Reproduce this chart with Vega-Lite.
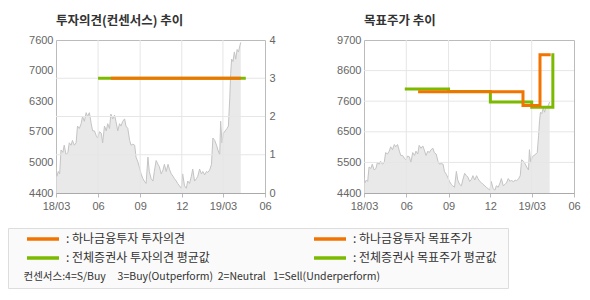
{
  "$schema": "https://vega.github.io/schema/vega-lite/v6.json",
  "background": "white",
  "padding": {"left": 7, "top": 14, "right": 5, "bottom": 5},
  "config": {
    "font": "Liberation Sans",
    "view": {"stroke": "#bbbbbb"},
    "axis": {"domain": false, "tickColor": "#bbbbbb", "grid": false, "labelColor": "#666666", "labelFontSize": 11, "labelFont": "Liberation Sans", "title": null, "labelOverlap": false, "tickCount": 12},
    "legend": {
      "orient": "none", "legendX": -48, "legendY": 188,
      "columns": 2, "gridAlign": "all",
      "symbolType": "M2,0H10", "symbolSize": 64, "symbolStrokeWidth": 3.5,
      "labelFont": "Noto Sans CJK KR", "labelFontSize": 12, "labelColor": "#333333", "labelOffset": 41, "labelLimit": 0,
      "columnPadding": 84, "rowPadding": 5, "padding": 5,
      "fillColor": "#fafafa", "strokeColor": "#dddddd",
      "titleOrient": "bottom", "titleAnchor": "start", "titleFont": "Noto Sans CJK KR", "titleFontSize": 10.5, "titleFontWeight": "normal", "titleColor": "#333333", "titlePadding": 7, "titleLimit": 0
    }
  },
  "datasets": {
    "price": [
      {"date": "2018/03/01", "price": 4950}, {"date": "2018/03/03", "price": 4750}, {"date": "2018/03/06", "price": 4850}, {"date": "2018/03/09", "price": 4800},
      {"date": "2018/03/12", "price": 5300}, {"date": "2018/03/16", "price": 5250}, {"date": "2018/03/19", "price": 5400}, {"date": "2018/03/23", "price": 5200},
      {"date": "2018/03/27", "price": 5250}, {"date": "2018/03/30", "price": 5450}, {"date": "2018/04/03", "price": 5400}, {"date": "2018/04/06", "price": 5500},
      {"date": "2018/04/10", "price": 5400}, {"date": "2018/04/14", "price": 5450}, {"date": "2018/04/17", "price": 5800}, {"date": "2018/04/21", "price": 5750},
      {"date": "2018/04/25", "price": 5850}, {"date": "2018/04/28", "price": 6000}, {"date": "2018/05/02", "price": 5900}, {"date": "2018/05/06", "price": 6080},
      {"date": "2018/05/09", "price": 6000}, {"date": "2018/05/13", "price": 6080}, {"date": "2018/05/17", "price": 5850}, {"date": "2018/05/20", "price": 5700},
      {"date": "2018/05/24", "price": 5700}, {"date": "2018/05/28", "price": 5600}, {"date": "2018/05/31", "price": 5550}, {"date": "2018/06/04", "price": 5680},
      {"date": "2018/06/08", "price": 5650}, {"date": "2018/06/11", "price": 5450}, {"date": "2018/06/15", "price": 5800}, {"date": "2018/06/19", "price": 5700},
      {"date": "2018/06/22", "price": 5850}, {"date": "2018/06/26", "price": 5750}, {"date": "2018/06/29", "price": 6050}, {"date": "2018/07/03", "price": 5950},
      {"date": "2018/07/07", "price": 6030}, {"date": "2018/07/10", "price": 5900}, {"date": "2018/07/14", "price": 5700}, {"date": "2018/07/18", "price": 5850},
      {"date": "2018/07/21", "price": 5800}, {"date": "2018/07/25", "price": 5900}, {"date": "2018/07/29", "price": 5950}, {"date": "2018/08/01", "price": 5800},
      {"date": "2018/08/05", "price": 5750}, {"date": "2018/08/09", "price": 5500}, {"date": "2018/08/12", "price": 5400}, {"date": "2018/08/16", "price": 5420},
      {"date": "2018/08/20", "price": 5400}, {"date": "2018/08/23", "price": 5150}, {"date": "2018/08/27", "price": 5050}, {"date": "2018/08/30", "price": 4950},
      {"date": "2018/09/03", "price": 4800}, {"date": "2018/09/07", "price": 4700}, {"date": "2018/09/10", "price": 4650}, {"date": "2018/09/14", "price": 4600},
      {"date": "2018/09/18", "price": 5150}, {"date": "2018/09/21", "price": 4850}, {"date": "2018/09/25", "price": 4700}, {"date": "2018/09/29", "price": 4650},
      {"date": "2018/10/02", "price": 4850}, {"date": "2018/10/06", "price": 5080}, {"date": "2018/10/10", "price": 5000}, {"date": "2018/10/13", "price": 4950},
      {"date": "2018/10/17", "price": 4800}, {"date": "2018/10/21", "price": 4880}, {"date": "2018/10/24", "price": 5000}, {"date": "2018/10/28", "price": 4850},
      {"date": "2018/11/01", "price": 5000}, {"date": "2018/11/04", "price": 4900}, {"date": "2018/11/08", "price": 4800}, {"date": "2018/11/12", "price": 4750},
      {"date": "2018/11/15", "price": 4700}, {"date": "2018/11/19", "price": 4650}, {"date": "2018/11/22", "price": 4600}, {"date": "2018/11/26", "price": 4550},
      {"date": "2018/11/30", "price": 4500}, {"date": "2018/12/03", "price": 4800}, {"date": "2018/12/07", "price": 4550}, {"date": "2018/12/11", "price": 4500},
      {"date": "2018/12/14", "price": 4650}, {"date": "2018/12/18", "price": 4600}, {"date": "2018/12/22", "price": 4750}, {"date": "2018/12/25", "price": 4900},
      {"date": "2018/12/29", "price": 4650}, {"date": "2019/01/02", "price": 4700}, {"date": "2019/01/05", "price": 4750}, {"date": "2019/01/09", "price": 4900},
      {"date": "2019/01/13", "price": 4800}, {"date": "2019/01/16", "price": 4850}, {"date": "2019/01/20", "price": 4780}, {"date": "2019/01/24", "price": 4850},
      {"date": "2019/01/27", "price": 4830}, {"date": "2019/01/31", "price": 4880}, {"date": "2019/02/04", "price": 5000}, {"date": "2019/02/07", "price": 5550},
      {"date": "2019/02/11", "price": 5500}, {"date": "2019/02/15", "price": 5400}, {"date": "2019/02/18", "price": 5300}, {"date": "2019/02/22", "price": 5200},
      {"date": "2019/02/24", "price": 5900}, {"date": "2019/02/27", "price": 5450}, {"date": "2019/03/02", "price": 5650}, {"date": "2019/03/06", "price": 5700},
      {"date": "2019/03/10", "price": 5750}, {"date": "2019/03/13", "price": 5800}, {"date": "2019/03/16", "price": 6400}, {"date": "2019/03/18", "price": 6900},
      {"date": "2019/03/20", "price": 7200}, {"date": "2019/03/23", "price": 7150}, {"date": "2019/03/26", "price": 7350}, {"date": "2019/03/29", "price": 7200},
      {"date": "2019/04/01", "price": 7400}, {"date": "2019/04/04", "price": 7350}, {"date": "2019/04/07", "price": 7480}, {"date": "2019/04/09", "price": 7550}
    ],
    "opinion": [
      {"series": "전체증권사 투자의견 평균값", "date": "2018/06/01", "value": 3},
      {"series": "전체증권사 투자의견 평균값", "date": "2019/04/20", "value": 3},
      {"series": "하나금융투자 투자의견", "date": "2018/06/29", "value": 3},
      {"series": "하나금융투자 투자의견", "date": "2019/04/09", "value": 3}
    ],
    "target": [
      {"series": "전체증권사 목표주가 평균값", "date": "2018/06/01", "value": 8000},
      {"series": "전체증권사 목표주가 평균값", "date": "2018/09/01", "value": 7920},
      {"series": "전체증권사 목표주가 평균값", "date": "2018/12/01", "value": 7550},
      {"series": "전체증권사 목표주가 평균값", "date": "2019/03/01", "value": 7370},
      {"series": "전체증권사 목표주가 평균값", "date": "2019/04/16", "value": 9190},
      {"series": "하나금융투자 목표주가", "date": "2018/06/30", "value": 7910},
      {"series": "하나금융투자 목표주가", "date": "2019/02/10", "value": 7430},
      {"series": "하나금융투자 목표주가", "date": "2019/03/19", "value": 9190},
      {"series": "하나금융투자 목표주가", "date": "2019/04/08", "value": 9190}
    ],
    "vgrid": [{"date": "2018/06/01"}, {"date": "2018/09/01"}, {"date": "2018/12/01"}, {"date": "2019/03/01"}],
    "hgridLeft": [{"v": 1}, {"v": 2}, {"v": 3}],
    "hgridRight": [{"v": 5460}, {"v": 6520}, {"v": 7580}, {"v": 8640}]
  },
  "spacing": 60,
  "resolve": {"scale": {"color": "shared"}, "legend": {"color": "shared"}},
  "hconcat": [
    {
      "width": 209, "height": 153,
      "title": {"text": "투자의견(컨센서스) 추이", "anchor": "start", "frame": "group", "font": "Noto Sans CJK KR", "fontSize": 12.5, "fontWeight": "bold", "color": "#333333", "offset": 7},
      "resolve": {"scale": {"y": "independent"}},
      "layer": [
        {
          "data": {"name": "price"},
          "mark": {"type": "area", "color": "#e0e0e0", "clip": true, "line": {"color": "#c4c4c4", "strokeWidth": 1}},
          "encoding": {
            "x": {"field": "date", "type": "temporal",
                  "scale": {"domain": [{"year": 2018, "month": 3, "date": 1}, {"year": 2019, "month": 6, "date": 1}]},
                  "axis": {"values": [{"year": 2018, "month": 3, "date": 1}, {"year": 2018, "month": 6, "date": 1}, {"year": 2018, "month": 9, "date": 1}, {"year": 2018, "month": 12, "date": 1}, {"year": 2019, "month": 3, "date": 1}, {"year": 2019, "month": 6, "date": 1}],
                           "labelExpr": "month(datum.value)==2 ? timeFormat(datum.value,'%y/%m') : timeFormat(datum.value,'%m')",
                           "tickSize": 4, "labelPadding": 3, "labelFlush": false, "domain": true, "domainColor": "#aaaaaa"}},
            "y": {"field": "price", "type": "quantitative",
                  "scale": {"domain": [4400, 7600], "zero": false, "nice": false},
                  "axis": {"values": [4400, 5040, 5680, 6320, 6960, 7600], "labelExpr": "'' + round(datum.value/100)*100", "ticks": false, "labelPadding": 3}}
          }
        },
        {
          "layer": [
            {
              "data": {"name": "vgrid"},
              "mark": {"type": "rule", "color": "#e6e6e6", "strokeWidth": 1},
              "encoding": {"x": {"field": "date", "type": "temporal"}}
            },
            {
              "data": {"name": "hgridLeft"},
              "mark": {"type": "rule", "color": "#e6e6e6", "strokeWidth": 1},
              "encoding": {
                "y": {"field": "v", "type": "quantitative", "scale": {"domain": [0, 4]},
                      "axis": {"orient": "right", "values": [0, 1, 2, 3, 4], "format": "d", "ticks": false, "labelPadding": 4}}
              }
            },
            {
              "data": {"name": "opinion"},
              "transform": [{"filter": "datum.series == '전체증권사 투자의견 평균값'"}],
              "mark": {"type": "line", "strokeWidth": 3, "strokeCap": "butt"},
              "encoding": {
                "x": {"field": "date", "type": "temporal"},
                "y": {"field": "value", "type": "quantitative"},
                "color": {"field": "series", "type": "nominal",
                          "scale": {"domain": ["하나금융투자 투자의견", "전체증권사 투자의견 평균값", "하나금융투자 목표주가", "전체증권사 목표주가 평균값"], "range": ["#f27400", "#7cba00", "#f27400", "#7cba00"]},
                          "legend": {"title": "\u200b\u2003컨센서스:4=S/Buy\u00a0\u00a0\u00a0\u00a0\u00a03=Buy(Outperform)\u00a0\u00a02=Neutral\u00a0\u00a0\u00a01=Sell(Underperform)", "labelExpr": "':\u00a0' + datum.label + '\u2002\u200b'"}}
              }
            },
            {
              "data": {"name": "opinion"},
              "transform": [{"filter": "datum.series == '하나금융투자 투자의견'"}],
              "mark": {"type": "line", "strokeWidth": 3, "strokeCap": "butt"},
              "encoding": {
                "x": {"field": "date", "type": "temporal"},
                "y": {"field": "value", "type": "quantitative"},
                "color": {"field": "series", "type": "nominal",
                          "scale": {"domain": ["하나금융투자 투자의견", "전체증권사 투자의견 평균값", "하나금융투자 목표주가", "전체증권사 목표주가 평균값"], "range": ["#f27400", "#7cba00", "#f27400", "#7cba00"]}}
              }
            }
          ]
        }
      ]
    },
    {
      "width": 210, "height": 153,
      "title": {"text": "목표주가 추이", "anchor": "start", "frame": "group", "font": "Noto Sans CJK KR", "fontSize": 12.5, "fontWeight": "bold", "color": "#333333", "offset": 7},
      "layer": [
        {
          "data": {"name": "price"},
          "mark": {"type": "area", "color": "#e0e0e0", "clip": true, "line": {"color": "#c4c4c4", "strokeWidth": 1}},
          "encoding": {
            "x": {"field": "date", "type": "temporal",
                  "scale": {"domain": [{"year": 2018, "month": 3, "date": 1}, {"year": 2019, "month": 6, "date": 1}]},
                  "axis": {"values": [{"year": 2018, "month": 3, "date": 1}, {"year": 2018, "month": 6, "date": 1}, {"year": 2018, "month": 9, "date": 1}, {"year": 2018, "month": 12, "date": 1}, {"year": 2019, "month": 3, "date": 1}, {"year": 2019, "month": 6, "date": 1}],
                           "labelExpr": "month(datum.value)==2 ? timeFormat(datum.value,'%y/%m') : timeFormat(datum.value,'%m')",
                           "tickSize": 4, "labelPadding": 3, "labelFlush": false, "domain": true, "domainColor": "#aaaaaa"}},
            "y": {"field": "price", "type": "quantitative",
                  "scale": {"domain": [4400, 9700], "zero": false, "nice": false},
                  "axis": {"values": [4400, 5460, 6520, 7580, 8640, 9700], "labelExpr": "'' + round(datum.value/100)*100", "ticks": false, "labelPadding": 3}}
          }
        },
        {
          "data": {"name": "vgrid"},
          "mark": {"type": "rule", "color": "#e6e6e6", "strokeWidth": 1},
          "encoding": {"x": {"field": "date", "type": "temporal"}}
        },
        {
          "data": {"name": "hgridRight"},
          "mark": {"type": "rule", "color": "#e6e6e6", "strokeWidth": 1},
          "encoding": {"y": {"field": "v", "type": "quantitative"}}
        },
        {
          "data": {"name": "target"},
          "transform": [{"filter": "datum.series == '전체증권사 목표주가 평균값'"}],
          "mark": {"type": "line", "strokeWidth": 3, "interpolate": "step-after", "strokeCap": "square"},
          "encoding": {
            "x": {"field": "date", "type": "temporal"},
            "y": {"field": "value", "type": "quantitative"},
            "color": {"field": "series", "type": "nominal",
                      "scale": {"domain": ["하나금융투자 투자의견", "전체증권사 투자의견 평균값", "하나금융투자 목표주가", "전체증권사 목표주가 평균값"], "range": ["#f27400", "#7cba00", "#f27400", "#7cba00"]}}
          }
        },
        {
          "data": {"name": "target"},
          "transform": [{"filter": "datum.series == '하나금융투자 목표주가'"}],
          "mark": {"type": "line", "strokeWidth": 3, "interpolate": "step-after", "strokeCap": "square"},
          "encoding": {
            "x": {"field": "date", "type": "temporal"},
            "y": {"field": "value", "type": "quantitative"},
            "color": {"field": "series", "type": "nominal",
                      "scale": {"domain": ["하나금융투자 투자의견", "전체증권사 투자의견 평균값", "하나금융투자 목표주가", "전체증권사 목표주가 평균값"], "range": ["#f27400", "#7cba00", "#f27400", "#7cba00"]}}
          }
        }
      ]
    }
  ]
}
